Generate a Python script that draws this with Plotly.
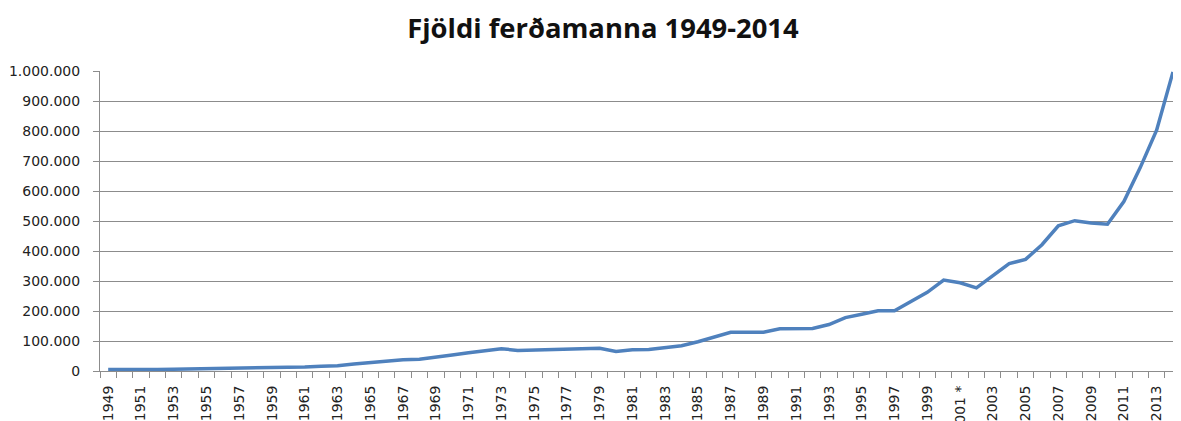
import plotly.graph_objects as go

years = [str(y) for y in range(1949, 2015)]
years[years.index("2001")] = "2001 *"

visitors = [
    5000, 4400, 4800, 5200, 6000, 7000, 7200, 7500, 8000, 10000,
    11000, 12500, 13500, 16000, 17500, 23000, 28800, 33500, 37600, 39400,
    45500, 53000, 60700, 68000, 74400, 68500, 70200, 70200, 72000, 75000,
    75500, 65000, 70500, 71500, 77600, 84000, 97400, 114000, 129000, 128800,
    129500, 140500, 141000, 141500, 155000, 178000, 189000, 200500, 201000, 232000,
    262000, 302900, 294000, 277000, 318000, 358000, 372000, 421000, 484000, 501000,
    493000, 489000, 565000, 678000, 803000, 997000,
]

y_ticks = list(range(0, 1000001, 100000))

idx = list(range(len(years)))
label_idx = idx[::2]
label_txt = [years[i] for i in label_idx]

fig = go.Figure()
fig.add_trace(go.Scatter(
    x=idx, y=visitors, mode="lines",
    line=dict(color="#4F81BD", width=3.5),
    hoverinfo="skip", showlegend=False,
))

# page body has an 8px margin; the figure is placed at (8, 8)
fig.update_layout(
    width=1165, height=413,
    margin=dict(l=92, r=0, t=63, b=50, autoexpand=False),
    paper_bgcolor="white", plot_bgcolor="white",
    separators=",.",
    title=dict(
        text="<b>Fjöldi ferðamanna 1949-2014</b>",
        x=0.5107, xanchor="center", xref="container",
        y=0.95, yanchor="middle", yref="container",
        font=dict(family="Open Sans", size=27.4, color="#111111"),
    ),
    font=dict(family="DejaVu Sans", size=14, color="#222222"),
)

fig.update_xaxes(
    range=[-0.5, 65.0], automargin=False,
    tickmode="array", tickvals=label_idx, ticktext=label_txt,
    tickangle=-90, ticks="", showgrid=False, zeroline=False,
    showline=True, linecolor="#8c8c8c", linewidth=1,
    tickfont=dict(family="DejaVu Sans", size=14, color="#222222"),
    ticklabelstandoff=8,
    minor=dict(tickmode="linear", tick0=-0.5, dtick=1, ticks="outside",
               ticklen=6, tickcolor="#8c8c8c", tickwidth=1, showgrid=False),
)

fig.update_yaxes(
    range=[0, 1000000], automargin=False,
    tickmode="array", tickvals=y_ticks, tickformat=",d",
    ticks="outside", ticklen=6, tickcolor="#8c8c8c", tickwidth=1,
    showgrid=True, gridcolor="#8c8c8c", gridwidth=1, zeroline=False,
    showline=True, linecolor="#8c8c8c", linewidth=1,
    tickfont=dict(family="DejaVu Sans", size=14, color="#222222"),
    ticklabelstandoff=10,
)

fig.write_html("out.html")
